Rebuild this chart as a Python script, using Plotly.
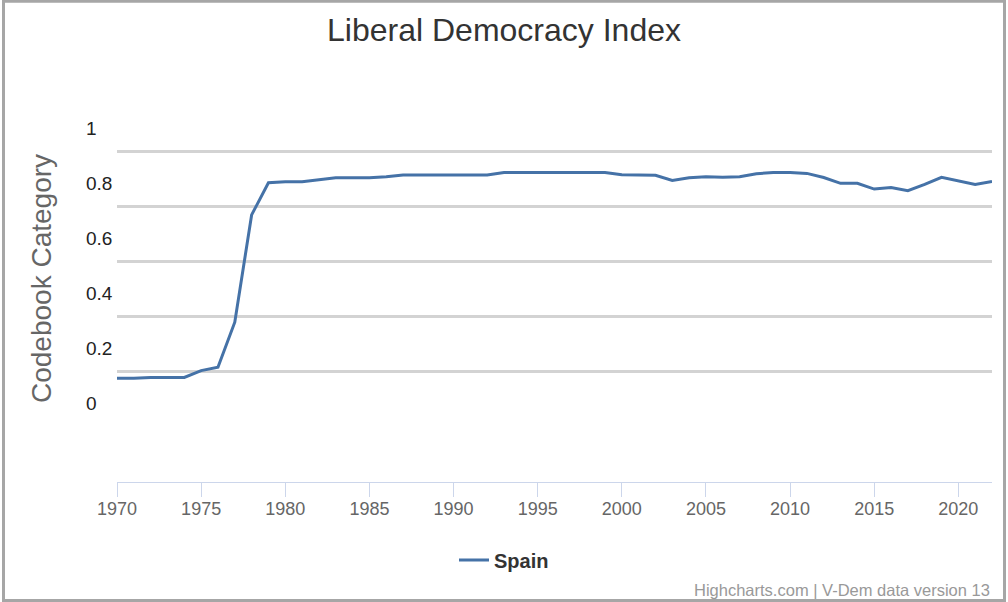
import plotly.graph_objects as go

# ---- data ----
years = list(range(1970, 2023))
spain_ldi = [
    0.091, 0.091, 0.094, 0.094, 0.094, 0.119, 0.131, 0.295, 0.685, 0.802,
    0.806, 0.806, 0.812, 0.820, 0.820, 0.820, 0.824, 0.830, 0.830, 0.830,
    0.830, 0.830, 0.830, 0.839, 0.839, 0.839, 0.839, 0.839, 0.839, 0.839,
    0.831, 0.829, 0.829, 0.810, 0.820, 0.824, 0.822, 0.824, 0.835, 0.839,
    0.839, 0.836, 0.821, 0.800, 0.800, 0.779, 0.785, 0.773, 0.796, 0.822,
    0.810, 0.796, 0.807,
]
x_ticks = [1970, 1975, 1980, 1985, 1990, 1995, 2000, 2005, 2010, 2015, 2020]
y_label_vals = [0, 0.2, 0.4, 0.6, 0.8, 1]
y_label_text = ["0", "0.2", "0.4", "0.6", "0.8", "1"]
grid_vals = [0.115, 0.315, 0.515, 0.715, 0.915]

FONT = "Liberation Sans, Arial, sans-serif"
W, H = 1008, 602
L, R, T, B = 117, 16, 100, 120
PW, PH = W - L - R, H - T - B


def px_x(p):
    return (p - L) / PW


def px_y(p):
    return (H - B - p) / PH


fig = go.Figure()
fig.add_trace(go.Scatter(
    x=years, y=spain_ldi, mode="lines", name="Spain",
    line=dict(color="#4572A7", width=3),
))

annotations = []
for v, t in zip(y_label_vals, y_label_text):
    annotations.append(dict(
        x=px_x(84), xref="paper", y=v, yref="y", text=t, showarrow=False,
        xanchor="left", yanchor="middle",
        font=dict(family=FONT, size=19, color="#222222"),
    ))
annotations.append(dict(
    x=px_x(41), xref="paper", y=px_y(279), yref="paper",
    text="Codebook Category", textangle=-90, showarrow=False,
    xanchor="center", yanchor="middle",
    font=dict(family=FONT, size=28, color="#666666"),
))
annotations.append(dict(
    x=px_x(992), xref="paper", y=px_y(590), yref="paper",
    text="Highcharts.com | V-Dem data version 13", showarrow=False,
    xanchor="right", yanchor="middle",
    font=dict(family=FONT, size=16.5, color="#999999"),
))

fig.update_layout(
    width=W, height=H,
    margin=dict(l=L, r=R, t=T, b=B, pad=0),
    paper_bgcolor="white", plot_bgcolor="white",
    title=dict(text="Liberal Democracy Index", x=0.5, xref="container",
               y=1 - 30 / H, yref="container", xanchor="center", yanchor="middle",
               font=dict(family=FONT, size=32, color="#333333")),
    xaxis=dict(range=[1970, 2022], tickvals=x_ticks, ticktext=[str(v) for v in x_ticks],
               showgrid=False, zeroline=False, showline=True, linecolor="#ccd6eb",
               linewidth=1, ticks="outside", ticklen=14, tickcolor="#ccd6eb", tickwidth=1,
               ticklabelstandoff=-4,
               tickfont=dict(family=FONT, size=18, color="#666666")),
    yaxis=dict(range=[(403.3 - 482) / 275, (403.3 - 100) / 275], tickvals=grid_vals,
               showticklabels=False, showgrid=True, gridcolor="#d3d3d3", gridwidth=2.5,
               zeroline=False, showline=False, ticks=""),
    showlegend=True,
    legend=dict(orientation="h", x=0.5, xref="container", xanchor="center",
                y=1 - 560 / H, yref="container", yanchor="middle",
                font=dict(family=FONT, size=20, color="#333333", weight="bold"),
                bgcolor="rgba(0,0,0,0)"),
    annotations=annotations,
    shapes=[dict(type="rect", xref="paper", yref="paper",
                 x0=px_x(3.5), x1=px_x(1004.5), y0=px_y(600.5), y1=px_y(1.3),
                 line=dict(color="#a6a6a6", width=3), fillcolor="rgba(0,0,0,0)",
                 layer="above")],
)

fig.write_html(
    "out.html",
    config={"displayModeBar": False},
    post_script="document.body.style.margin='0px';document.body.style.overflow='hidden';",
)
